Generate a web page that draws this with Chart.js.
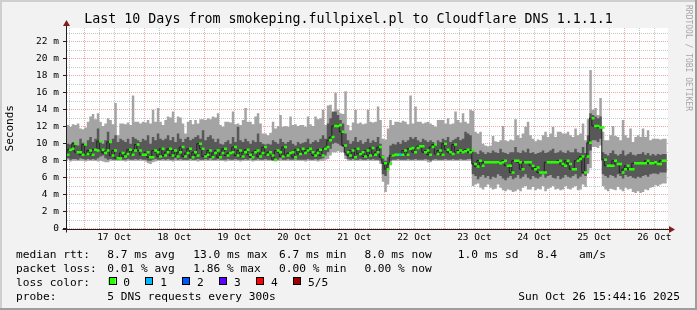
<!DOCTYPE html>
<html><head><meta charset="utf-8">
<script src="https://cdn.jsdelivr.net/npm/chart.js@4"></script>
<style>html,body{margin:0;padding:0;background:#f2f2f2}canvas{display:block}</style>
</head><body>
<canvas id="c" width="697" height="310"></canvas>
<script>
// ---- data (hourly steps; hour 0 = 16 Oct 00:00) ----
const firstStepHour = 17;
const dayLabels = ['17 Oct','18 Oct','19 Oct','20 Oct','21 Oct','22 Oct','23 Oct','24 Oct','25 Oct','26 Oct'];
const yTickLabels = ['0','2 m','4 m','6 m','8 m','10 m','12 m','14 m','16 m','18 m','20 m','22 m'];

const maxRtt = [
12.2,12.2,12.0,12.3,12.2,12.4,11.8,11.7,11.9,12.6,
13.2,13.5,12.9,13.6,12.6,12.1,12.4,13.0,12.8,12.3,
14.8,11.0,12.4,12.4,12.3,12.5,12.2,15.7,12.6,12.6,
12.4,12.6,12.5,12.8,12.4,14.0,12.6,14.2,12.6,12.2,
12.8,13.2,13.1,13.8,12.5,13.2,13.1,12.4,11.2,12.6,
12.8,12.3,12.8,12.4,12.9,12.9,12.8,13.0,12.9,13.2,
13.1,13.6,12.2,12.0,12.6,12.6,12.5,13.8,12.3,12.4,
12.2,12.8,14.2,12.6,12.6,12.3,13.2,13.6,12.4,11.2,
11.2,11.0,11.3,12.6,11.8,12.1,13.4,12.0,12.1,12.0,
13.2,12.2,12.3,12.1,12.2,12.2,12.0,13.2,12.3,12.1,
13.2,12.9,13.0,14.0,12.2,14.5,14.6,13.6,16.0,14.0,
13.6,13.5,16.2,12.2,11.6,12.5,14.0,12.4,12.5,12.3,
12.4,14.0,12.6,12.5,12.6,14.4,12.8,10.6,10.5,11.8,
12.8,12.2,12.6,12.6,12.5,12.7,12.6,12.3,15.7,12.4,
14.4,12.6,12.6,12.4,12.5,12.6,12.4,12.2,12.0,12.8,
12.8,12.8,12.4,13.0,12.3,12.4,13.8,12.8,12.5,13.6,
12.6,12.4,14.0,13.9,11.4,11.2,11.4,10.0,9.8,9.7,
9.8,10.9,10.3,10.2,10.4,12.1,10.4,10.3,10.5,10.4,
12.9,11.0,10.7,11.2,12.0,12.6,11.0,10.6,10.3,10.5,
10.4,11.0,11.4,10.8,11.2,12.0,10.8,11.4,11.4,11.2,
11.2,11.4,11.0,10.8,11.8,11.0,11.2,12.4,10.4,12.9,
18.7,14.0,14.2,13.4,15.4,11.4,10.4,10.4,11.0,12.1,
10.9,10.8,10.4,12.8,11.0,10.7,11.8,10.2,10.8,11.0,
10.8,11.8,10.8,11.6,10.4,10.6,10.6,10.6,10.5,10.6];

const minRtt = [
8.0,8.1,7.9,8.0,8.0,8.0,8.0,8.0,7.9,8.0,
8.0,8.0,8.0,7.9,8.0,7.9,7.8,7.8,8.0,8.0,
8.0,8.0,8.0,8.0,7.9,8.0,8.0,8.0,8.0,8.0,
8.0,8.0,7.9,7.7,7.6,7.8,7.9,8.0,8.0,8.0,
8.0,8.0,8.0,7.9,8.0,8.0,8.0,8.0,8.0,8.0,
8.0,8.0,8.0,7.9,8.0,8.0,8.0,8.0,8.0,8.0,
8.0,8.0,8.0,8.0,7.9,8.0,8.0,8.0,8.0,8.0,
7.9,8.0,8.0,8.0,8.0,7.9,8.0,8.0,8.0,8.0,
8.0,8.0,8.0,8.0,7.9,8.0,8.0,8.0,8.0,8.0,
8.0,8.0,8.0,8.0,8.0,8.0,7.9,8.0,8.0,8.0,
8.0,7.9,8.0,8.0,8.1,8.2,8.6,9.0,9.0,9.1,
9.0,9.0,8.2,8.0,8.0,8.0,8.0,8.0,8.0,8.0,
8.0,8.0,8.0,8.0,8.0,8.0,7.6,5.5,4.3,5.2,
7.6,8.0,8.0,8.0,8.0,8.0,8.0,8.0,8.0,8.0,
8.0,8.0,8.0,8.0,8.0,7.8,7.8,8.0,8.0,8.0,
8.0,8.0,8.0,8.0,8.0,8.0,8.0,8.0,8.0,8.0,
8.0,8.0,8.0,5.0,5.2,5.3,4.8,4.6,4.9,5.2,
4.8,4.6,4.7,5.2,4.8,4.5,4.4,4.6,4.5,4.3,
4.4,4.6,4.4,4.8,5.0,4.6,4.6,4.9,4.5,4.7,
4.6,5.0,4.4,4.7,4.8,5.0,4.6,4.7,4.5,4.6,
5.0,4.7,4.6,4.8,5.0,4.5,4.6,5.2,4.9,6.5,
7.1,9.6,9.6,9.5,9.8,5.0,4.6,4.4,4.7,4.6,
4.5,4.9,4.6,4.4,4.8,4.6,4.7,4.3,4.2,4.4,
4.2,4.3,4.6,4.5,4.8,4.9,5.1,5.0,5.2,5.3];

const lowerQuartile = [
8.2,8.3,8.1,8.2,8.2,8.1,8.3,8.2,8.1,8.2,
8.1,8.2,8.1,8.3,8.5,8.6,8.3,8.1,8.2,8.1,
8.1,8.1,8.2,8.1,8.1,8.2,8.1,8.1,8.2,8.1,
8.2,8.1,8.1,8.0,8.0,8.1,8.2,8.1,8.1,8.2,
8.1,8.2,8.1,8.1,8.3,8.1,8.2,8.1,8.1,8.1,
8.2,8.1,8.1,8.2,8.1,8.1,8.2,8.1,8.3,8.1,
8.1,8.2,8.1,8.1,8.1,8.2,8.1,8.1,8.2,8.1,
8.1,8.1,8.2,8.1,8.3,8.1,8.1,8.2,8.1,8.1,
8.2,8.1,8.1,8.2,8.1,8.1,8.3,8.1,8.1,8.2,
8.1,8.1,8.2,8.1,8.1,8.1,8.1,8.2,8.1,8.1,
8.2,8.1,8.2,8.3,8.6,9.0,9.4,10.0,10.1,10.0,
9.8,9.6,8.6,8.2,8.1,8.2,8.1,8.1,8.2,8.1,
8.1,8.2,8.1,8.2,8.1,8.1,8.0,6.4,6.2,7.0,
8.0,8.1,8.1,8.2,8.1,8.1,8.1,8.2,8.1,8.1,
8.2,8.1,8.1,8.1,8.2,8.1,8.0,8.1,8.2,8.1,
8.1,8.1,8.2,8.1,8.1,8.2,8.1,8.1,8.2,8.1,
8.1,8.2,8.2,6.4,6.2,5.8,6.1,6.3,6.0,6.2,
5.8,6.1,6.0,6.4,6.2,5.9,5.7,6.0,6.2,5.8,
6.0,6.3,5.9,6.1,6.4,6.0,5.8,6.2,6.0,5.9,
6.1,6.4,6.0,6.2,6.3,6.0,5.9,6.2,5.8,6.0,
6.3,6.1,6.0,6.2,6.4,5.9,6.1,6.4,6.2,7.6,
9.2,10.4,10.4,10.2,10.6,6.4,6.2,6.0,6.3,6.2,
6.0,6.4,6.2,5.9,6.3,6.1,6.2,6.0,5.9,6.1,
6.0,6.2,6.3,6.1,6.4,6.5,6.5,6.4,6.6,6.6];

const upperQuartile = [
9.8,10.0,9.9,10.2,10.0,9.8,10.6,10.1,9.9,10.4,
10.8,10.2,10.6,11.8,10.2,10.0,10.4,11.4,10.2,10.6,
11.0,10.2,10.6,10.4,10.2,10.6,10.0,10.8,10.6,10.4,
10.2,10.6,10.4,11.0,10.0,10.8,10.4,11.2,10.6,10.4,
10.6,11.0,10.4,10.8,10.2,11.2,10.6,10.2,10.6,10.8,
10.4,10.6,10.8,11.0,10.6,11.6,10.4,10.8,11.0,10.6,
10.2,10.6,10.0,9.9,10.2,10.4,10.0,10.8,10.2,12.0,
10.4,10.2,10.6,10.3,10.0,10.4,10.2,11.2,10.2,10.0,
9.9,10.0,9.9,10.4,10.2,10.0,10.6,10.2,10.0,10.2,
10.4,10.0,9.8,10.2,10.0,10.1,10.2,10.6,10.0,10.2,
10.4,10.2,10.6,11.0,10.6,12.4,13.0,13.8,13.8,13.4,
12.8,12.4,11.2,10.4,10.0,10.3,10.8,10.2,10.4,10.0,
10.2,10.6,10.1,10.4,10.2,10.8,10.0,8.6,8.0,8.4,
9.8,10.0,9.9,10.2,10.0,10.4,10.2,10.4,10.8,10.6,
10.8,10.4,10.2,10.6,10.4,10.2,10.4,10.2,10.0,10.4,
10.2,10.6,10.4,10.8,10.2,10.4,10.6,10.8,10.4,10.6,
11.4,11.2,11.0,9.2,9.0,8.8,9.2,9.0,8.8,9.0,
8.9,9.2,9.0,8.9,9.4,9.0,8.9,8.8,9.0,9.0,
9.6,9.0,8.9,9.2,9.0,9.4,8.9,9.0,8.8,8.9,
9.0,9.2,8.9,9.0,9.2,9.4,8.9,9.0,9.2,9.0,
8.9,9.2,9.0,9.0,9.4,9.0,8.9,9.6,8.9,11.0,
13.6,13.4,13.2,13.0,13.2,9.0,8.8,8.6,8.9,9.2,
8.8,8.6,8.8,9.2,8.6,8.8,9.0,8.7,8.6,8.8,
8.8,9.0,8.7,8.9,8.6,8.8,8.6,8.8,8.7,8.8];

const medianRtt = [
8.7,9.3,9.4,10.0,9.0,9.0,8.7,9.9,8.8,9.2,
8.7,9.3,9.2,10.3,9.3,8.9,9.2,10.2,8.6,9.2,
8.3,8.3,8.9,8.5,8.8,9.3,8.7,9.2,9.9,9.2,
8.7,8.7,9.0,8.4,8.4,9.2,9.0,8.5,9.4,8.6,
9.0,9.4,8.6,9.2,8.5,9.0,9.6,8.5,8.9,9.4,
8.4,9.0,8.6,10.0,9.4,8.5,8.7,9.2,8.4,8.9,
9.2,8.4,8.9,9.4,8.6,8.9,9.0,9.6,8.6,9.2,
8.5,9.0,9.3,8.7,8.4,9.0,9.2,8.5,8.9,9.6,
8.7,9.0,8.6,8.1,9.2,9.0,8.5,9.6,8.6,8.9,
9.0,8.4,9.3,8.8,9.4,8.9,9.2,9.4,9.0,8.6,
8.9,9.3,8.6,9.4,9.6,10.4,10.8,12.1,12.1,12.2,
11.4,9.8,9.0,8.6,9.2,8.4,9.4,8.8,9.0,8.5,
9.2,8.6,9.5,8.7,9.0,9.6,8.4,7.7,7.0,7.6,
8.6,8.7,8.7,8.7,8.7,9.2,8.7,9.4,9.5,9.0,
9.5,9.7,9.7,9.0,9.2,8.7,9.6,9.9,8.8,9.2,
8.7,10.0,9.3,9.0,8.8,9.9,9.0,9.2,9.0,9.1,
9.3,9.0,9.2,7.6,7.3,8.0,7.4,7.8,7.8,7.8,
7.8,7.8,7.8,7.7,7.8,8.0,7.4,7.4,6.6,8.0,
8.0,7.8,7.0,7.8,7.8,7.8,7.4,7.0,7.2,6.6,
6.6,6.6,7.8,7.8,7.8,7.8,7.8,8.0,7.6,7.4,
8.0,7.6,7.0,7.0,8.0,8.2,8.5,6.6,8.5,10.1,
13.0,12.1,12.1,11.9,11.9,8.1,7.4,7.4,7.4,8.0,
7.6,7.6,6.6,7.0,7.4,7.0,7.0,7.7,7.7,7.7,
7.7,7.7,8.0,7.7,7.7,7.8,7.6,7.6,8.0,8.0];

const lossSteps = [133];
const lossLevels = [1];
const lossColors = ['#26ff00','#00b8ff','#0059ff','#5e00ff','#ff0000','#a00000'];
const lossNames = ['0','1','2','3','4','5/5'];

const titleText = 'Last 10 Days from smokeping.fullpixel.pl to Cloudflare DNS 1.1.1.1';
const rttRow = ['median rtt:','8.7 ms avg','13.0 ms max','6.7 ms min','8.0 ms now','1.0 ms sd','8.4','am/s'];
const lossRow = ['packet loss:','0.01 % avg','1.86 % max','0.00 % min','0.00 % now'];
const lossColorLabel = 'loss color:';
const probeRow = ['probe:','5 DNS requests every 300s'];
const dateText = 'Sun Oct 26 15:44:16 2025';
const watermark = 'RRDTOOL / TOBI OETIKER';

// ---- build ----
const MONO = '"DejaVu Sans Mono", monospace';
function stepPoints(arr){
  const pts = arr.map((v,i)=>({x:firstStepHour+i, y:v}));
  pts.push({x:firstStepHour+arr.length, y:arr[arr.length-1]});
  return pts;
}
const lossAt = i => { const k = lossSteps.indexOf(i); return k<0 ? 0 : lossLevels[k]; };
const GRID = 'rgba(143,143,143,0.5)';
const MGRID = 'rgba(222,79,79,0.5)';

const bgPlugin = {
  id:'bg',
  beforeDraw(chart){
    const c = chart.ctx, a = chart.chartArea;
    c.save();
    c.fillStyle = '#f2f2f2'; c.fillRect(0,0,chart.width,chart.height);
    c.fillStyle = '#ffffff'; c.fillRect(a.left,a.top,a.right-a.left,a.bottom-a.top);
    c.restore();
  },
  afterDraw(chart){
    const c = chart.ctx, a = chart.chartArea, W = chart.width, H = chart.height;
    c.save();
    c.fillStyle = '#cfcfcf'; c.fillRect(0,0,W,2); c.fillRect(0,0,2,H);
    c.fillStyle = '#9e9e9e'; c.fillRect(0,H-2,W,2); c.fillRect(W-2,0,2,H);
    const x0 = Math.round(a.left)-0.5, y0 = Math.round(a.bottom)+0.5;
    c.strokeStyle = '#1f1f1f'; c.lineWidth = 1;
    c.beginPath();
    c.moveTo(x0, y0+3); c.lineTo(x0, a.top-5);
    c.moveTo(x0-4, y0); c.lineTo(a.right+2, y0);
    c.stroke();
    c.fillStyle = '#801f1f';
    c.beginPath(); c.moveTo(x0-3.5, a.top-2); c.lineTo(x0+3.5, a.top-2); c.lineTo(x0, a.top-8); c.closePath(); c.fill();
    c.beginPath(); c.moveTo(a.right+1, y0-3.5); c.lineTo(a.right+1, y0+3.5); c.lineTo(a.right+7, y0); c.closePath(); c.fill();
    c.fillStyle = '#000';
    c.font = '13.3px '+MONO; c.textAlign='center'; c.textBaseline='alphabetic';
    c.fillText(titleText, W/2, 23.3);
    c.font = '11.2px '+MONO; c.textAlign='left';
    const cols = [16,107.3,193.3,279.1,364.4,457.8,536.9,579.1];
    rttRow.forEach((t,k)=>c.fillText(t, cols[k], 257.5));
    lossRow.forEach((t,k)=>c.fillText(t, cols[k], 271.5));
    c.fillText(lossColorLabel, 16, 285.5);
    lossNames.forEach((n,k)=>{
      const bx = 108.5 + k*36.95;
      c.fillStyle = lossColors[k]; c.fillRect(bx, 278, 7, 7);
      c.strokeStyle = '#000'; c.lineWidth = 1; c.strokeRect(Math.round(bx)+0.5, 277.5, 7, 7);
      c.fillStyle = '#000'; c.fillText(n, bx+14.7, 285.5);
    });
    c.fillText(probeRow[0], 16, 299.5);
    c.fillText(probeRow[1], cols[1], 299.5);
    c.textAlign='right'; c.fillText(dateText, 680, 299.5);
    c.translate(688, 5); c.rotate(Math.PI/2);
    c.font = '8px '+MONO; c.textAlign='left'; c.textBaseline='middle';
    c.fillStyle = '#a6a6a6'; c.fillText(watermark, 0, 0);
    c.restore();
  }
};

new Chart(document.getElementById('c'), {
  type:'line',
  data:{ datasets:[
    { data: medianRtt.map((v,i)=>({x:firstStepHour+i+0.5, y:v})), showLine:false,
      pointStyle:'line', pointRadius:1.5, pointBorderWidth:2.5, pointHoverRadius:1.5,
      pointBorderColor: ctx => lossColors[lossAt(ctx.dataIndex)] },
    { data: stepPoints(medianRtt), stepped:'after', borderColor:'#202020', borderWidth:1, pointRadius:0, fill:false },
    { data: stepPoints(upperQuartile), stepped:'after', borderWidth:0, pointRadius:0, fill:'+1', backgroundColor:'#585858' },
    { data: stepPoints(lowerQuartile), stepped:'after', borderWidth:0, pointRadius:0, fill:false },
    { data: stepPoints(maxRtt), stepped:'after', borderWidth:0, pointRadius:0, fill:'+1', backgroundColor:'#a4a4a4' },
    { data: stepPoints(minRtt), stepped:'after', borderWidth:0, pointRadius:0, fill:false }
  ]},
  options:{
    responsive:false, animation:false, events:[],
    layout:{padding:{top:28,left:0,right:29,bottom:0}},
    plugins:{legend:{display:false}, tooltip:{enabled:false}, title:{display:false}},
    scales:{
      x:{ type:'linear', min:17.08, max:257.48, z:1,
          afterFit(s){ s.height = 81.5; },
          border:{display:false, dash:[1,1]},
          grid:{ color: ctx => (ctx.tick && ctx.tick.value % 24 === 0) ? MGRID : GRID,
                 tickLength:3, tickColor:'transparent' },
          ticks:{ stepSize:6, includeBounds:false, autoSkip:false, maxRotation:0, maxTicksLimit:1000, padding:0,
                  font:{family:MONO, size:9.5}, color:'#000',
                  callback: v => (v % 24 === 12) ? (dayLabels[(v-36)/24] || '') : '' } },
      y:{ min:0, max:23.65, z:1,
          afterFit(s){ s.width = 67; },
          border:{display:false, dash:[1,1]},
          grid:{ color: ctx => (ctx.tick && ctx.tick.value % 2 === 0) ? MGRID : GRID,
                 tickLength:4, tickColor: ctx => (ctx.tick && ctx.tick.value % 2 === 0) ? '#1f1f1f' : 'transparent' },
          ticks:{ stepSize:1, includeBounds:false, autoSkip:false, maxTicksLimit:1000, padding:4,
                  font:{family:MONO, size:9.5}, color:'#000',
                  callback: v => (v % 2 === 0) ? (yTickLabels[v/2] || '') : '' },
          title:{ display:true, text:'Seconds', font:{family:MONO, size:11}, color:'#000', padding:{top:4,bottom:0} } }
    }
  },
  plugins:[bgPlugin]
});
</script>
</body></html>
